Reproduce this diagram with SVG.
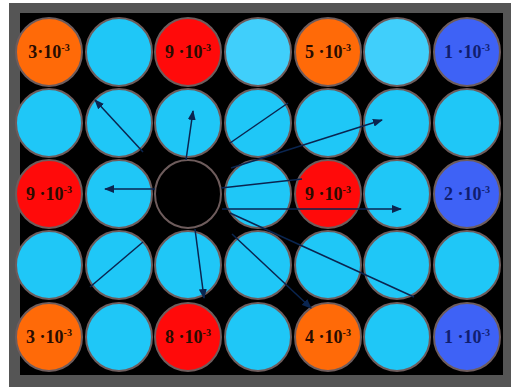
<svg xmlns="http://www.w3.org/2000/svg" width="511" height="390" viewBox="0 0 511 390">
<defs>
<marker id="ah" markerUnits="userSpaceOnUse" markerWidth="10" markerHeight="8" refX="9" refY="4" orient="auto">
<path d="M0,0 L10,4 L0,8 z" fill="#0a2550"/>
</marker>
<style>
.c{stroke:#6e5c5c;stroke-width:2}
.cy{fill:#1fc7f7}
.cl{fill:#40cffb}
.or{fill:#ff6a08}
.rd{fill:#ff0a0a}
.bl{fill:#3e62f6}
.t{font-family:"Liberation Serif",serif;font-weight:bold;font-size:18px;text-anchor:middle;fill:#2a0c00}
.tb{fill:#101e70}
.s{font-size:10px}
.a{stroke:#0a2550;stroke-width:1.5;fill:none}
</style>
</defs>
<rect x="0" y="0" width="511" height="390" fill="#ffffff"/>
<rect x="9" y="3" width="502" height="384" fill="#555555"/>
<rect x="20" y="13" width="483" height="362" fill="#000000"/>
<g id="r1c1"><ellipse class="c or" cx="49" cy="52" rx="33" ry="34"/><text class="t" x="49" y="58">3·10<tspan class="s" dy="-7">-3</tspan></text></g>
<g id="r1c2"><ellipse class="c cy" cx="119" cy="52" rx="33" ry="34"/></g>
<g id="r1c3"><ellipse class="c rd" cx="188" cy="52" rx="33" ry="34"/><text class="t" x="188" y="58">9 ·10<tspan class="s" dy="-7">-3</tspan></text></g>
<g id="r1c4"><ellipse class="c cl" cx="258" cy="52" rx="33" ry="34"/></g>
<g id="r1c5"><ellipse class="c or" cx="328" cy="52" rx="33" ry="34"/><text class="t" x="328" y="58">5 ·10<tspan class="s" dy="-7">-3</tspan></text></g>
<g id="r1c6"><ellipse class="c cl" cx="397" cy="52" rx="33" ry="34"/></g>
<g id="r1c7"><ellipse class="c bl" cx="467" cy="52" rx="33" ry="34"/><text class="t tb" x="467" y="58">1 ·10<tspan class="s" dy="-7">-3</tspan></text></g>
<g id="r2c1"><ellipse class="c cy" cx="49" cy="123" rx="33" ry="34"/></g>
<g id="r2c2"><ellipse class="c cy" cx="119" cy="123" rx="33" ry="34"/></g>
<g id="r2c3"><ellipse class="c cy" cx="188" cy="123" rx="33" ry="34"/></g>
<g id="r2c4"><ellipse class="c cy" cx="258" cy="123" rx="33" ry="34"/></g>
<g id="r2c5"><ellipse class="c cy" cx="328" cy="123" rx="33" ry="34"/></g>
<g id="r2c6"><ellipse class="c cy" cx="397" cy="123" rx="33" ry="34"/></g>
<g id="r2c7"><ellipse class="c cy" cx="467" cy="123" rx="33" ry="34"/></g>
<g id="r3c1"><ellipse class="c rd" cx="49" cy="194" rx="33" ry="34"/><text class="t" x="49" y="200">9 ·10<tspan class="s" dy="-7">-3</tspan></text></g>
<g id="r3c2"><ellipse class="c cy" cx="119" cy="194" rx="33" ry="34"/></g>
<g id="r3c3"><ellipse class="c" fill="#000000" cx="188" cy="194" rx="33" ry="34"/></g>
<g id="r3c4"><ellipse class="c cy" cx="258" cy="194" rx="33" ry="34"/></g>
<g id="r3c5"><ellipse class="c rd" cx="328" cy="194" rx="33" ry="34"/><text class="t" x="328" y="200">9 ·10<tspan class="s" dy="-7">-3</tspan></text></g>
<g id="r3c6"><ellipse class="c cy" cx="397" cy="194" rx="33" ry="34"/></g>
<g id="r3c7"><ellipse class="c bl" cx="467" cy="194" rx="33" ry="34"/><text class="t tb" x="467" y="200">2 ·10<tspan class="s" dy="-7">-3</tspan></text></g>
<g id="r4c1"><ellipse class="c cy" cx="49" cy="265" rx="33" ry="34"/></g>
<g id="r4c2"><ellipse class="c cy" cx="119" cy="265" rx="33" ry="34"/></g>
<g id="r4c3"><ellipse class="c cy" cx="188" cy="265" rx="33" ry="34"/></g>
<g id="r4c4"><ellipse class="c cy" cx="258" cy="265" rx="33" ry="34"/></g>
<g id="r4c5"><ellipse class="c cy" cx="328" cy="265" rx="33" ry="34"/></g>
<g id="r4c6"><ellipse class="c cy" cx="397" cy="265" rx="33" ry="34"/></g>
<g id="r4c7"><ellipse class="c cy" cx="467" cy="265" rx="33" ry="34"/></g>
<g id="r5c1"><ellipse class="c or" cx="49" cy="337" rx="33" ry="34"/><text class="t" x="49" y="343">3 ·10<tspan class="s" dy="-7">-3</tspan></text></g>
<g id="r5c2"><ellipse class="c cy" cx="119" cy="337" rx="33" ry="34"/></g>
<g id="r5c3"><ellipse class="c rd" cx="188" cy="337" rx="33" ry="34"/><text class="t" x="188" y="343">8 ·10<tspan class="s" dy="-7">-3</tspan></text></g>
<g id="r5c4"><ellipse class="c cy" cx="258" cy="337" rx="33" ry="34"/></g>
<g id="r5c5"><ellipse class="c or" cx="328" cy="337" rx="33" ry="34"/><text class="t" x="328" y="343">4 ·10<tspan class="s" dy="-7">-3</tspan></text></g>
<g id="r5c6"><ellipse class="c cy" cx="397" cy="337" rx="33" ry="34"/></g>
<g id="r5c7"><ellipse class="c bl" cx="467" cy="337" rx="33" ry="34"/><text class="t tb" x="467" y="343">1 ·10<tspan class="s" dy="-7">-3</tspan></text></g>
<g id="connectors">
<line class="a" x1="143" y1="152" x2="95" y2="100" marker-end="url(#ah)"/>
<line class="a" x1="186" y1="160" x2="193" y2="111" marker-end="url(#ah)"/>
<line class="a" x1="230" y1="143" x2="288" y2="103"/>
<line class="a" x1="231" y1="168" x2="382" y2="120" marker-end="url(#ah)"/>
<line class="a" x1="155" y1="189" x2="105" y2="189" marker-end="url(#ah)"/>
<line class="a" x1="221" y1="188" x2="302" y2="179"/>
<line class="a" x1="222" y1="209" x2="401" y2="209" marker-end="url(#ah)"/>
<line class="a" x1="143" y1="242" x2="90" y2="287"/>
<line class="a" x1="195" y1="229" x2="204" y2="298" marker-end="url(#ah)"/>
<line class="a" x1="232" y1="234" x2="311" y2="308" marker-end="url(#ah)"/>
<line class="a" x1="230" y1="213" x2="414" y2="297"/>
</g>
</svg>
